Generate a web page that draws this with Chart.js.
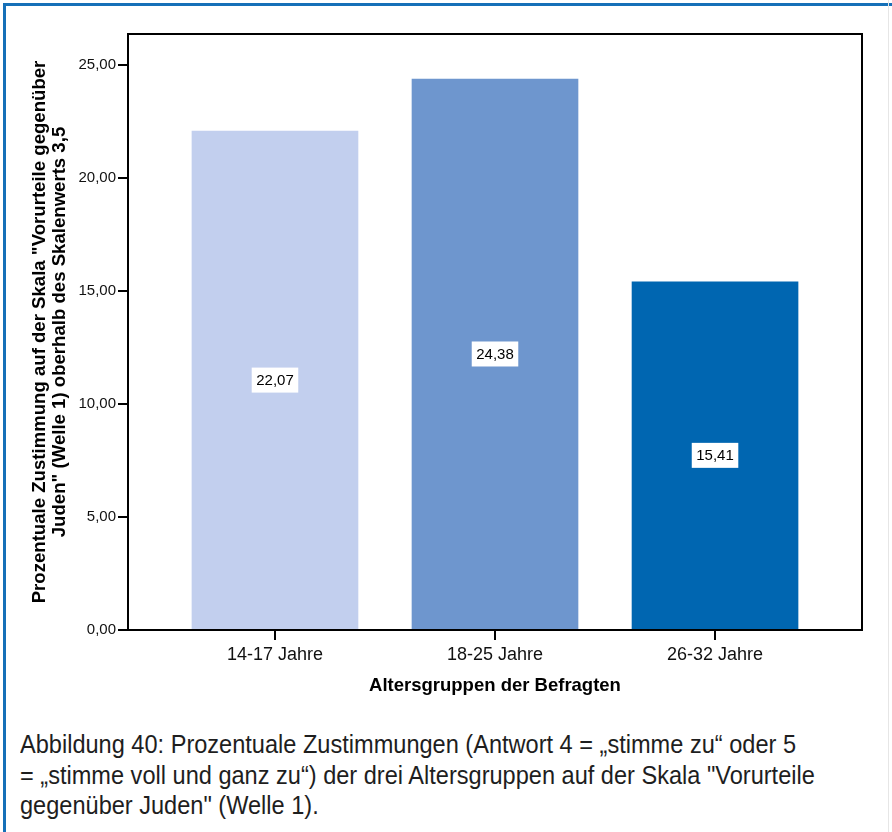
<!DOCTYPE html>
<html><head><meta charset="utf-8">
<script src="https://cdn.jsdelivr.net/npm/chart.js@4.4.1/dist/chart.umd.min.js"></script>
<style>
html,body{margin:0;padding:0;background:#fff;}
body{width:892px;height:832px;position:relative;overflow:hidden;}
#frame{position:absolute;left:3px;top:3px;width:950px;height:950px;border-top:3px solid #1570b8;border-left:3px solid #1570b8;box-sizing:border-box;}
#rline{position:absolute;left:888px;top:0;width:1px;height:832px;background:#e6e6e6;}
#wrap{position:absolute;left:0;top:0;width:892px;height:710px;}
#cap{position:absolute;left:20px;top:729px;font-family:"Liberation Sans",Arial,sans-serif;font-size:25px;line-height:30.5px;color:#1e1e1e;white-space:nowrap;transform-origin:0 0;}
</style>
</head><body>
<div id="frame"></div>
<div id="rline"></div>
<div id="wrap"><canvas id="c" width="892" height="710"></canvas></div>
<div id="cap"><span id="l1">Abbildung 40: Prozentuale Zustimmungen (Antwort 4 = „stimme zu“ oder 5</span><br>= „stimme voll und ganz zu“) der drei Altersgruppen auf der Skala "Vorurteile<br>gegenüber Juden" (Welle 1).</div>
<script>
const categories = ['14-17 Jahre', '18-25 Jahre', '26-32 Jahre'];
const values = [22.07, 24.38, 15.41];
const yTicks = [0, 5, 10, 15, 20, 25];
const xTitle = 'Altersgruppen der Befragten';
const yTitle = ['Prozentuale Zustimmung auf der Skala "Vorurteile gegenüber', 'Juden" (Welle 1) oberhalb des Skalenwerts 3,5'];
const barColors = ['#c2cfee', '#6e96ce', '#0066b1'];

const FF = '"Liberation Sans", Arial, sans-serif';
const fmt = v => Number(v).toFixed(2).replace('.', ',');

// fit caption width to reference line width
(function () {
  const l1 = document.getElementById('l1');
  const w = l1.getBoundingClientRect().width;
  document.getElementById('cap').style.transform = 'scaleX(' + (776 / w) + ')';
})();

const boxPlugin = {
  id: 'box',
  afterDraw(chart) {
    const {ctx, chartArea: a} = chart;
    ctx.save();
    ctx.strokeStyle = '#000';
    ctx.lineWidth = 2;
    ctx.strokeRect(a.left, a.top, a.right - a.left, a.bottom - a.top);
    ctx.restore();
  }
};
const labelPlugin = {
  id: 'vlabels',
  afterDatasetsDraw(chart) {
    const {ctx} = chart;
    const meta = chart.getDatasetMeta(0);
    ctx.save();
    ctx.font = '15px ' + FF;
    ctx.textAlign = 'center';
    ctx.textBaseline = 'middle';
    meta.data.forEach((el, i) => {
      const txt = fmt(values[i]);
      const cy = (el.y + el.base) / 2;
      const w = ctx.measureText(txt).width + 9;
      const h = 25;
      ctx.fillStyle = '#fff';
      ctx.fillRect(el.x - w / 2, cy - h / 2, w, h);
      ctx.fillStyle = '#000';
      ctx.fillText(txt, el.x, cy + 1);
    });
    ctx.restore();
  }
};

new Chart(document.getElementById('c'), {
  type: 'bar',
  data: {
    datasets: [{
      data: values.map((v, i) => ({x: i, y: v})),
      backgroundColor: barColors,
      barThickness: 166,
      borderWidth: 0
    }]
  },
  options: {
    responsive: false,
    animation: false,
    devicePixelRatio: 1,
    layout: {padding: {left: 0, right: 30, top: 34, bottom: 0}},
    plugins: {legend: {display: false}, tooltip: {enabled: false}},
    scales: {
      x: {
        type: 'linear',
        offset: false,
        min: -0.668,
        max: 2.668,
        afterBuildTicks: s => { s.ticks = categories.map((c, i) => ({value: i})); },
        afterFit: s => { s.height = 80; },
        grid: {offset: false, drawOnChartArea: false, drawTicks: true, tickLength: 10, color: '#000', lineWidth: 2},
        border: {display: true, color: '#000', width: 2},
        ticks: {callback: v => categories[v], font: {family: FF, size: 18}, color: '#111', padding: 4, maxRotation: 0, autoSkip: false},
        title: {display: true, text: xTitle, color: '#000', font: {family: FF, size: 18.5, weight: 'bold'}, padding: {top: 0, bottom: 13}}
      },
      y: {
        min: 0,
        max: 26.37,
        afterBuildTicks: s => { s.ticks = yTicks.map(v => ({value: v})); },
        afterFit: s => { s.width = 128; },
        grid: {drawOnChartArea: false, drawTicks: true, tickLength: 10, color: '#000', lineWidth: 2},
        border: {display: true, color: '#000', width: 2},
        ticks: {callback: v => fmt(v), font: {family: FF, size: 15}, color: '#111', padding: 2},
        title: {display: true, text: yTitle, color: '#000', font: {family: FF, size: 18.6, weight: 'bold', lineHeight: 1.07}, padding: {top: 30, bottom: 0}}
      }
    }
  },
  plugins: [boxPlugin, labelPlugin]
});
</script>
</body></html>
